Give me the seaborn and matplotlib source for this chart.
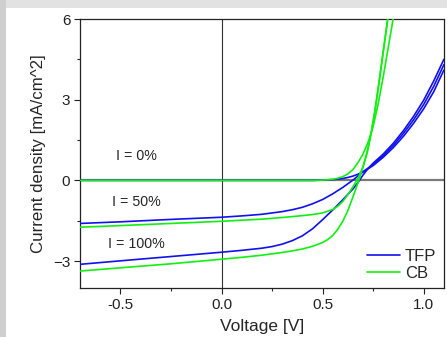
import numpy as np
import pandas as pd
import matplotlib
matplotlib.use("Agg")
import matplotlib.pyplot as plt
from matplotlib.patches import Rectangle
from matplotlib.ticker import MultipleLocator
import seaborn as sns

# J-V readings (voltage in V, current density in mA/cm^2)
tfp_0_v = [-0.7, -0.3, 0.0, 0.3, 0.45, 0.5, 0.55, 0.6, 0.625, 0.65, 0.675, 0.7,
           0.725, 0.75, 0.8, 0.85, 0.9, 0.95, 1.0, 1.05, 1.1]
tfp_0_j = [0.0, 0.0, 0.0, 0.0, 0.0, 0.01, 0.03, 0.07, 0.11, 0.16, 0.23, 0.32,
           0.43, 0.55, 0.86, 1.22, 1.64, 2.12, 2.66, 3.3, 4.1]

tfp_50_v = [-0.7, -0.5, -0.25, 0.0, 0.1, 0.2, 0.3, 0.35, 0.4, 0.45, 0.5, 0.55,
            0.6, 0.65, 0.69, 0.72, 0.75, 0.8, 0.85, 0.9, 0.95, 1.0, 1.05, 1.1]
tfp_50_j = [-1.6, -1.54, -1.45, -1.37, -1.32, -1.26, -1.16, -1.09, -1.0, -0.87, -0.71, -0.5,
            -0.26, 0.01, 0.26, 0.43, 0.59, 0.92, 1.3, 1.75, 2.25, 2.82, 3.5, 4.3]

tfp_100_v = [-0.7, -0.5, -0.25, 0.0, 0.1, 0.2, 0.25, 0.3, 0.35, 0.4, 0.45, 0.5,
             0.55, 0.6, 0.65, 0.675, 0.7, 0.725, 0.75, 0.8, 0.85, 0.9, 0.95, 1.0, 1.05, 1.1]
tfp_100_j = [-3.12, -2.99, -2.83, -2.67, -2.6, -2.52, -2.46, -2.37, -2.24, -2.06, -1.8, -1.46,
             -1.1, -0.72, -0.32, -0.08, 0.2, 0.44, 0.64, 0.98, 1.38, 1.85, 2.38, 2.98, 3.7, 4.5]

cb_0_v = [-0.7, -0.3, 0.0, 0.3, 0.45, 0.5, 0.55, 0.575, 0.6, 0.625, 0.65, 0.675,
          0.7, 0.725, 0.75, 0.775, 0.8, 0.825, 0.85]
cb_0_j = [0.0, 0.0, 0.0, 0.0, 0.0, 0.01, 0.04, 0.08, 0.14, 0.24, 0.4, 0.66,
          0.98, 1.42, 2.0, 2.85, 3.85, 4.95, 6.05]

cb_50_v = [-0.7, -0.5, -0.25, 0.0, 0.1, 0.2, 0.3, 0.4, 0.45, 0.5, 0.55, 0.575,
           0.6, 0.625, 0.65, 0.675, 0.7, 0.72, 0.74, 0.76, 0.78, 0.8, 0.82, 0.83]
cb_50_j = [-1.74, -1.68, -1.6, -1.52, -1.48, -1.44, -1.38, -1.31, -1.27, -1.21, -1.08, -0.96,
           -0.78, -0.53, -0.24, 0.08, 0.5, 1.0, 1.72, 2.62, 3.66, 4.76, 5.86, 6.4]

cb_100_v = [-0.7, -0.5, -0.25, 0.0, 0.1, 0.2, 0.3, 0.35, 0.4, 0.45, 0.5, 0.525,
            0.55, 0.575, 0.6, 0.625, 0.65, 0.665, 0.68, 0.7, 0.72, 0.74,
            0.76, 0.78, 0.8, 0.82, 0.83]
cb_100_j = [-3.37, -3.25, -3.1, -2.93, -2.86, -2.78, -2.68, -2.62, -2.55, -2.45, -2.31, -2.2,
            -2.05, -1.82, -1.52, -1.12, -0.62, -0.3, 0.02, 0.5, 1.06, 1.76,
            2.66, 3.7, 4.8, 5.9, 6.45]

curves = [
    ("TFP", "0%", tfp_0_v, tfp_0_j),
    ("TFP", "50%", tfp_50_v, tfp_50_j),
    ("TFP", "100%", tfp_100_v, tfp_100_j),
    ("CB", "0%", cb_0_v, cb_0_j),
    ("CB", "50%", cb_50_v, cb_50_j),
    ("CB", "100%", cb_100_v, cb_100_j),
]
rows = []
for dev, inten, vs, js in curves:
    for v, j in zip(vs, js):
        rows.append({"device": dev, "curve": dev + inten, "V": v, "J": j})
df = pd.DataFrame(rows)

sns.set_style("ticks")
plt.rcParams["font.family"] = ["Liberation Sans", "DejaVu Sans"]

fig = plt.figure(figsize=(4.47, 3.37), dpi=100)
fig.patch.set_facecolor("#e2e2e2")
fig.patches.append(Rectangle((0.0, 0.0), 0.0134, 1.0, transform=fig.transFigure,
                             facecolor="#cfcfcf", edgecolor="none", zorder=-10))
fig.patches.append(Rectangle((0.0134, 0.0), 1.0, 0.976, transform=fig.transFigure,
                             facecolor="white", edgecolor="none", zorder=-10))

ax = fig.add_axes([0.179, 0.1454, 0.814, 0.7982])
ax.set_facecolor("none")

ax.axhline(0, color="#7a7a7a", lw=1.6, zorder=1)
ax.axvline(0, color="#333333", lw=0.8, zorder=1)

sns.lineplot(data=df, x="V", y="J", hue="device", units="curve", estimator=None,
             sort=False, hue_order=["TFP", "CB"],
             palette={"TFP": "#1010f0", "CB": "#10f010"}, lw=1.2, ax=ax, zorder=3)

handles, labels = ax.get_legend_handles_labels()
ax.legend(handles, labels, loc="lower right", frameon=False, fontsize=12,
          handlelength=2.0, handletextpad=0.3, labelspacing=0.1,
          borderaxespad=0.15, borderpad=0.3)

ax.set_xlim(-0.7, 1.1)
ax.set_ylim(-4, 6)
ax.xaxis.set_major_locator(MultipleLocator(0.5))
ax.xaxis.set_minor_locator(MultipleLocator(0.25))
ax.yaxis.set_major_locator(MultipleLocator(3))
ax.yaxis.set_minor_locator(MultipleLocator(1.5))
ax.xaxis.set_major_formatter(matplotlib.ticker.FormatStrFormatter("%.1f"))
ax.tick_params(which="major", direction="out", length=4, width=0.8,
               labelsize=11, colors="#222222", pad=3)
ax.tick_params(which="minor", direction="out", length=2.5, width=0.8)
for sp in ax.spines.values():
    sp.set_visible(True)
    sp.set_color("#222222")
    sp.set_linewidth(0.9)

ax.set_xlabel("Voltage [V]", fontsize=12.5, labelpad=5)
ax.set_ylabel("Current density [mA/cm^2]", fontsize=12.2, labelpad=5)

ax.text(-0.42, 0.9, "I = 0%", ha="center", va="center", fontsize=10.3)
ax.text(-0.42, -0.8, "I = 50%", ha="center", va="center", fontsize=10.3)
ax.text(-0.42, -2.37, "I = 100%", ha="center", va="center", fontsize=10.3)

fig.savefig("out.png", dpi=100, facecolor=fig.get_facecolor())
